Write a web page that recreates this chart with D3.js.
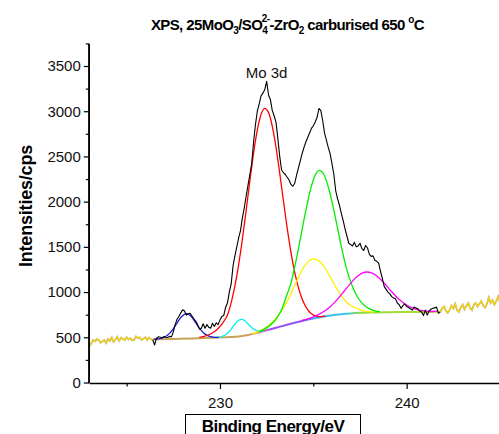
<!DOCTYPE html>
<html><head><meta charset="utf-8">
<script src="https://cdn.jsdelivr.net/npm/d3@7/dist/d3.min.js"></script>
<style>
html,body{margin:0;padding:0;background:#fff;}
svg{display:block;font-family:"Liberation Sans",Arial,sans-serif;}
</style></head>
<body><svg id="c" width="499" height="434"></svg>
<script>
// ---------- data ----------
const yMajorTicks = [0,500,1000,1500,2000,2500,3000,3500];
const yMinorTicks = [250,750,1250,1750,2250,2750,3250,3750];
const xMajorTicks = [230,240];
const xMinorTicks = [225,235,245];
const peakLabel = "Mo 3d";

// measured spectrum (black)
const measured = [
[226.4,470],[226.5,415],[226.6,490],[226.7,505],[226.8,500],[226.9,495],[227.0,508],[227.1,500],[227.2,498],[227.3,510],
[227.4,505],[227.5,560],[227.6,640],[227.7,700],[227.8,730],[227.9,770],[228.0,805],[228.1,790],[228.2,745],[228.3,760],
[228.4,765],[228.5,735],[228.6,705],[228.7,680],[228.8,640],[228.9,590],[229.0,600],[229.1,650],[229.2,600],[229.3,640],
[229.4,610],[229.5,600],[229.6,655],[229.7,620],[229.8,660],[229.9,640],[230.0,690],[230.1,730],[230.2,740],[230.3,830],
[230.4,880],[230.5,1000],[230.6,1090],[230.7,1290],[230.8,1400],[230.9,1500],[231.0,1600],[231.1,1680],[231.2,1820],[231.3,1930],
[231.4,2060],[231.5,2180],[231.6,2300],[231.7,2420],[231.8,2660],[231.9,2850],[232.0,3000],[232.1,3080],[232.2,3170],[232.3,3200],
[232.4,3240],[232.5,3330],[232.6,3180],[232.7,3130],[232.8,3010],[232.9,2950],[233.0,2880],[233.1,2700],[233.2,2500],[233.3,2350],
[233.4,2320],[233.5,2300],[233.6,2270],[233.7,2240],[233.8,2190],[233.9,2170],[234.0,2200],[234.1,2290],[234.2,2370],[234.3,2450],
[234.4,2530],[234.5,2600],[234.6,2660],[234.7,2710],[234.8,2760],[234.9,2810],[235.0,2840],[235.1,2880],[235.2,2930],[235.3,3030],
[235.4,3010],[235.5,2900],[235.6,2760],[235.7,2680],[235.8,2600],[235.9,2530],[236.0,2420],[236.1,2300],[236.2,2120],[236.3,2030],
[236.4,1960],[236.5,1870],[236.6,1790],[236.7,1700],[236.8,1620],[236.9,1540],[237.0,1525],[237.1,1510],[237.2,1550],[237.3,1500],
[237.4,1510],[237.5,1540],[237.6,1480],[237.7,1460],[237.8,1515],[237.9,1490],[238.0,1420],[238.1,1395],[238.2,1400],[238.3,1350],
[238.4,1340],[238.5,1320],[238.6,1230],[238.7,1150],[238.8,1060],[238.9,1030],[239.0,1000],[239.1,980],[239.2,950],[239.3,935],
[239.4,925],[239.5,880],[239.6,860],[239.7,820],[239.8,850],[239.9,870],[240.0,840],[240.1,830],[240.2,815],[240.3,800],
[240.4,835],[240.5,825],[240.6,815],[240.7,790],[240.8,780],[240.9,740],[241.0,800],[241.1,745],[241.2,790],[241.3,810],
[241.4,820],[241.5,825],[241.6,835],[241.7,765],[241.8,780]
];
// survey signal outside the fitted window (yellow)
const outerLeft = [
[223.0,400],[223.1,430],[223.2,470],[223.3,455],[223.4,480],[223.5,470],[223.6,440],[223.7,455],[223.8,470],[223.9,435],
[224.0,480],[224.1,460],[224.2,500],[224.3,450],[224.4,470],[224.5,505],[224.6,460],[224.7,495],[224.8,480],[224.9,470],
[225.0,500],[225.1,475],[225.2,490],[225.3,465],[225.4,470],[225.5,510],[225.6,490],[225.7,500],[225.8,470],[225.9,485],
[226.0,500],[226.1,470],[226.2,495],[226.3,480],[226.4,470]
];
const outerRight = [
[241.8,780],[241.9,820],[242.0,840],[242.1,790],[242.2,770],[242.3,800],[242.4,850],[242.5,820],[242.6,870],[242.7,800],
[242.8,780],[242.9,830],[243.0,860],[243.1,810],[243.2,850],[243.3,880],[243.4,820],[243.5,800],[243.6,860],[243.7,880],
[243.8,840],[243.9,870],[244.0,900],[244.1,850],[244.2,830],[244.3,870],[244.4,940],[244.5,880],[244.6,910],[244.7,860],
[244.8,900],[244.9,950],[245.0,890]
];
// Shirley background
const background = [
[226.4,477],[226.7,478],[227.5,482],[228.5,487],[229.5,494],[230.5,503],[231.0,510],[231.5,525],[232.0,550],[232.5,577],
[233.0,605],[233.5,633],[234.0,660],[234.5,685],[235.0,707],[235.5,727],[236.0,743],[236.5,755],[237.0,764],[237.5,770],
[238.0,774],[239.0,778],[240.0,780],[241.0,781],[241.8,782]
];
// fitted components (on background)
const peakBlue = [
[226.45,478],[226.7,482],[226.95,495],[227.2,525],[227.45,580],[227.7,657],[227.95,730],[228.2,761],[228.45,732],[228.7,661],
[228.95,587],[229.2,535],[229.45,509],[229.7,500],[229.95,499]
];
const peakCyan = [
[229.92,500],[230.12,510],[230.32,531],[230.52,570],[230.72,624],[230.92,675],[231.12,699],[231.32,685],[231.52,644],[231.72,603],
[231.92,576],[232.12,567],[232.32,570]
];
const peakRed = [
[228.9,500],[229.15,511],[229.4,528],[229.65,555],[229.9,597],[230.15,660],[230.4,746],[230.65,924],[230.9,1178],[231.15,1511],
[231.4,1900],[231.65,2309],[231.9,2674],[232.15,2931],[232.4,3031],[232.65,2959],[232.9,2729],[233.15,2391],[233.4,2008],[233.65,1638],
[233.9,1325],[234.15,1087],[234.4,924],[234.65,820],[234.9,760],[235.15,735],[235.4,728],[235.65,733]
];
const peakYellow = [
[231.72,540],[231.97,558],[232.22,581],[232.47,611],[232.72,652],[232.97,704],[233.22,769],[233.47,846],[233.72,948],[233.97,1060],
[234.22,1171],[234.47,1267],[234.72,1337],[234.97,1367],[235.22,1357],[235.47,1309],[235.72,1233],[235.97,1143],[236.22,1051],[236.47,968],
[236.72,902],[236.97,857],[237.22,829],[237.47,806],[237.72,792],[237.97,784],[238.22,779]
];
const peakGreen = [
[232.07,561],[232.32,584],[232.57,615],[232.82,658],[233.07,721],[233.32,814],[233.57,960],[233.82,1112],[234.07,1342],[234.32,1605],
[234.57,1872],[234.82,2110],[235.07,2278],[235.32,2345],[235.57,2298],[235.82,2151],[236.07,1933],[236.32,1684],[236.57,1439],[236.82,1226],
[237.07,1075],[237.32,962],[237.57,886],[237.82,838],[238.07,809],[238.32,793],[238.57,784]
];
const peakMagenta = [
[234.37,683],[234.62,698],[234.87,715],[235.12,736],[235.37,762],[235.62,793],[235.87,833],[236.12,881],[236.37,938],[236.62,1001],
[236.87,1066],[237.12,1126],[237.37,1176],[237.62,1209],[237.87,1222],[238.12,1213],[238.37,1183],[238.62,1137],[238.87,1081],[239.12,1022],
[239.37,965],[239.62,914],[239.87,874],[240.12,842],[240.37,819],[240.62,804],[240.87,794],[241.12,788],[241.37,785],[241.62,786]
];

// ---------- drawing ----------
const svg = d3.select("#c");
const x = d3.scaleLinear().domain([223,245]).range([89.3,500]);
const y = d3.scaleLinear().domain([0,3750]).range([382.5,43.4]);
const FONT = '"Liberation Sans",Arial,sans-serif';

const plot = svg.append("g");
const smooth = d3.line().x(d=>x(d[0])).y(d=>y(d[1])).curve(d3.curveMonotoneX);
const raw = d3.line().x(d=>x(d[0])).y(d=>y(d[1]));

// gradient for the background line (overlapping component tails)
const defs = svg.append("defs");
const grad = defs.append("linearGradient").attr("id","bgGrad")
  .attr("gradientUnits","userSpaceOnUse")
  .attr("x1",x(226.4)).attr("x2",x(241.8)).attr("y1",0).attr("y2",0);
const stops = [[226.4,"#c8a35a"],[231.2,"#c8a35a"],[232.0,"#d79a6a"],[232.7,"#a04cf0"],[234.5,"#8a5cf6"],[235.1,"#3fb4f2"],[236.8,"#3cc8e6"],[237.5,"#8edc40"],[241.8,"#b8e030"]];
stops.forEach(s=>grad.append("stop").attr("offset",(x(s[0])-x(226.4))/(x(241.8)-x(226.4))).attr("stop-color",s[1]));

// outer survey (yellow with grey edge)
[outerLeft, outerRight].forEach(arr=>{
  plot.append("path").attr("d",raw(arr)).attr("fill","none").attr("stroke","#b0a880").attr("stroke-width",1.8);
  plot.append("path").attr("d",raw(arr)).attr("fill","none").attr("stroke","#ffd800").attr("stroke-width",1.1);
});

plot.append("path").attr("d",smooth(background)).attr("fill","none").attr("stroke","url(#bgGrad)").attr("stroke-width",2);

const comps = [[peakBlue,"#1a1adc"],[peakCyan,"#00f0f0"],[peakRed,"#ff0000"],[peakYellow,"#ffee00"],[peakGreen,"#00ee00"],[peakMagenta,"#ff00ff"]];
comps.forEach(c=>{
  plot.append("path").attr("d",smooth(c[0])).attr("fill","none").attr("stroke",c[1]).attr("stroke-width",1.3);
});

plot.append("path").attr("d",raw(measured)).attr("fill","none").attr("stroke","#000").attr("stroke-width",1.1).attr("stroke-linejoin","round");

// axes
svg.append("g").attr("transform","translate(88.8,0)")
  .call(d3.axisLeft(y).tickValues(yMajorTicks).tickSize(5).tickSizeOuter(0).tickPadding(3).tickFormat(d3.format("d")));
svg.append("g").attr("transform","translate(88.8,0)")
  .call(d3.axisLeft(y).tickValues(yMinorTicks).tickSize(3).tickSizeOuter(0).tickFormat(""))
  .select(".domain").remove();
svg.append("g").attr("transform","translate(0,383)")
  .call(d3.axisBottom(x).tickValues(xMajorTicks).tickSize(6).tickSizeOuter(0).tickPadding(8).tickFormat(d3.format("d")));
svg.append("g").attr("transform","translate(0,383)")
  .call(d3.axisBottom(x).tickValues(xMinorTicks).tickSize(3.5).tickSizeOuter(0).tickFormat(""))
  .select(".domain").remove();
svg.selectAll(".domain").attr("stroke","#000").attr("stroke-width",1.3);
svg.selectAll(".tick line").attr("stroke","#000").attr("stroke-width",1.2);
svg.selectAll(".tick text").attr("font-family",FONT).attr("font-size",15).attr("fill","#111");
svg.append("line").attr("x1",88.8).attr("x2",88.8).attr("y1",y(3750)).attr("y2",383.6).attr("stroke","#000").attr("stroke-width",1.3);

// labels
svg.append("text").attr("x",266.5).attr("y",77.5).attr("text-anchor","middle")
  .attr("font-family",FONT).attr("font-size",15).attr("fill","#111").text(peakLabel);

svg.append("text").attr("transform","translate(32,206) rotate(-90)").attr("text-anchor","middle")
  .attr("font-family",FONT).attr("font-size",18).attr("font-weight","bold").attr("fill","#000")
  .attr("letter-spacing",-0.2).text("Intensities/cps");

svg.append("rect").attr("x",185.5).attr("y",414.5).attr("width",175).attr("height",30)
  .attr("fill","none").attr("stroke","#000").attr("stroke-width",1);
svg.append("text").attr("x",273).attr("y",431.5).attr("text-anchor","middle")
  .attr("font-family",FONT).attr("font-size",17).attr("font-weight","bold").attr("fill","#000")
  .attr("letter-spacing",-0.5).text("Binding Energy/eV");

const title = svg.append("text").attr("x",287.5).attr("y",30).attr("text-anchor","middle")
  .attr("font-family",FONT).attr("font-size",15).attr("font-weight","bold").attr("fill","#000")
  .attr("letter-spacing",-0.6);
title.append("tspan").text("XPS, 25MoO");
title.append("tspan").attr("dy",4).attr("font-size",10).text("3");
title.append("tspan").attr("dy",-4).text("/SO");
title.append("tspan").attr("dy",4).attr("font-size",10).text("4");
title.append("tspan").attr("dx",-5.5).attr("dy",-12).attr("font-size",10).text("2-");
title.append("tspan").attr("dy",8).text("-ZrO");
title.append("tspan").attr("dy",4).attr("font-size",10).text("2");
title.append("tspan").attr("dy",-4).text(" carburised 650 ");
title.append("tspan").attr("dy",-7).attr("font-size",10).text("o");
title.append("tspan").attr("dy",7).text("C");
</script></body></html>
